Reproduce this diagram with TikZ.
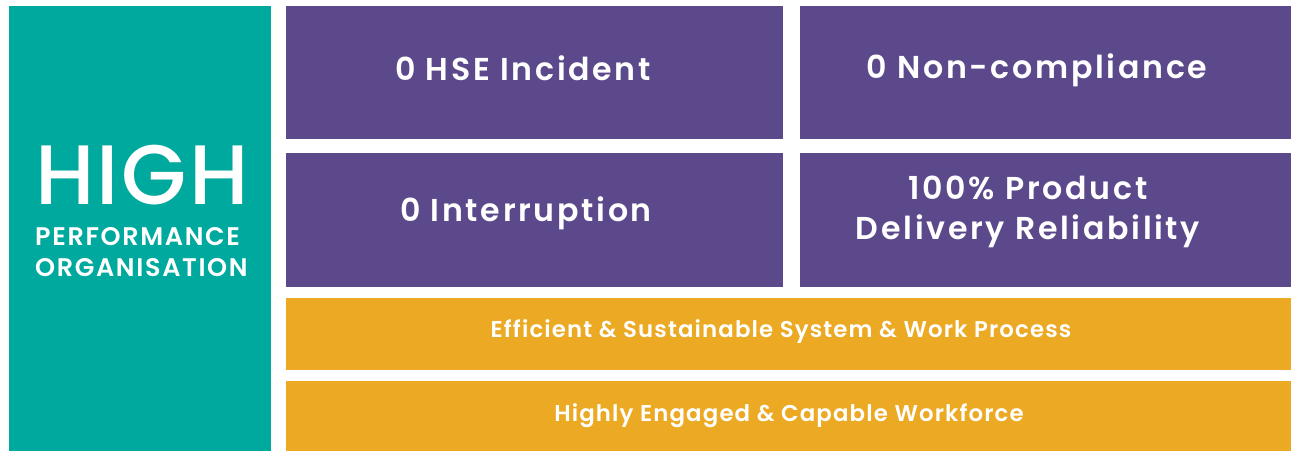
\documentclass[tikz,border=0pt]{standalone}
\usepackage{fontspec}
\setmainfont{Poppins}
\newfontfamily\semifont{Poppins SemiBold}
\newfontfamily\medfont{Poppins Medium}

\definecolor{hpteal}{RGB}{0,169,157}
\definecolor{hppurple}{RGB}{91,73,139}
\definecolor{hporange}{RGB}{236,169,36}

\tikzset{
	tealbox/.style = {fill = hpteal},
	purplebox/.style = {fill = hppurple},
	orangebox/.style = {fill = hporange},
	goaltext/.style = {text = white, align = center, font = \fontsize{18}{22.7}\semifont\addfontfeatures{LetterSpace=8.5}},
	basetext/.style = {text = white, font = \fontsize{13}{15}\semifont\addfontfeatures{LetterSpace=5}},
	hightext/.style = {text = white, font = \fontsize{48}{48}\medfont\addfontfeatures{LetterSpace=3}},
	subtext/.style = {text = white, align = left, font = \fontsize{14.5}{17.9}\semifont\addfontfeatures{LetterSpace=6.5}}
}

\begin{document}
\begin{tikzpicture}[x = 0.02cm, y = -0.02cm]

	\useasboundingbox [fill = white] (0, 0) rectangle (1291, 451);

	% Left column
	
	\fill [tealbox] (9, 6) rectangle (271, 451);
	
	\node [hightext] (high) at (142, 175.5) {HIGH};
	\node [subtext, anchor = west] (perf) at (29, 252) {PERFORMANCE\\ORGANISATION};
	
	% Zero targets
	
	\fill [purplebox] (286, 6) rectangle (783, 139);
	\fill [purplebox] (800, 6) rectangle (1291, 139);
	\fill [purplebox] (286, 153) rectangle (783, 287);
	\fill [purplebox] (800, 153) rectangle (1291, 287);
	
	\node [goaltext] (hse) at (523, 68) {0 HSE Incident};
	\node [goaltext] (noncomp) at (1037, 70) {0 Non-compliance};
	\node [goaltext] (interrupt) at (526, 213) {0 Interruption};
	\node [goaltext] (delivery) at (1028, 212) {100\% Product\\Delivery Reliability};
	
	% Foundations
	
	\fill [orangebox] (286, 298) rectangle (1291, 370);
	\fill [orangebox] (286, 381) rectangle (1291, 451);
	
	\node [basetext] (system) at (781, 332) {Efficient \& Sustainable System \& Work Process};
	\node [basetext] (workforce) at (789, 416) {Highly Engaged \& Capable Workforce};

\end{tikzpicture}
\end{document}
